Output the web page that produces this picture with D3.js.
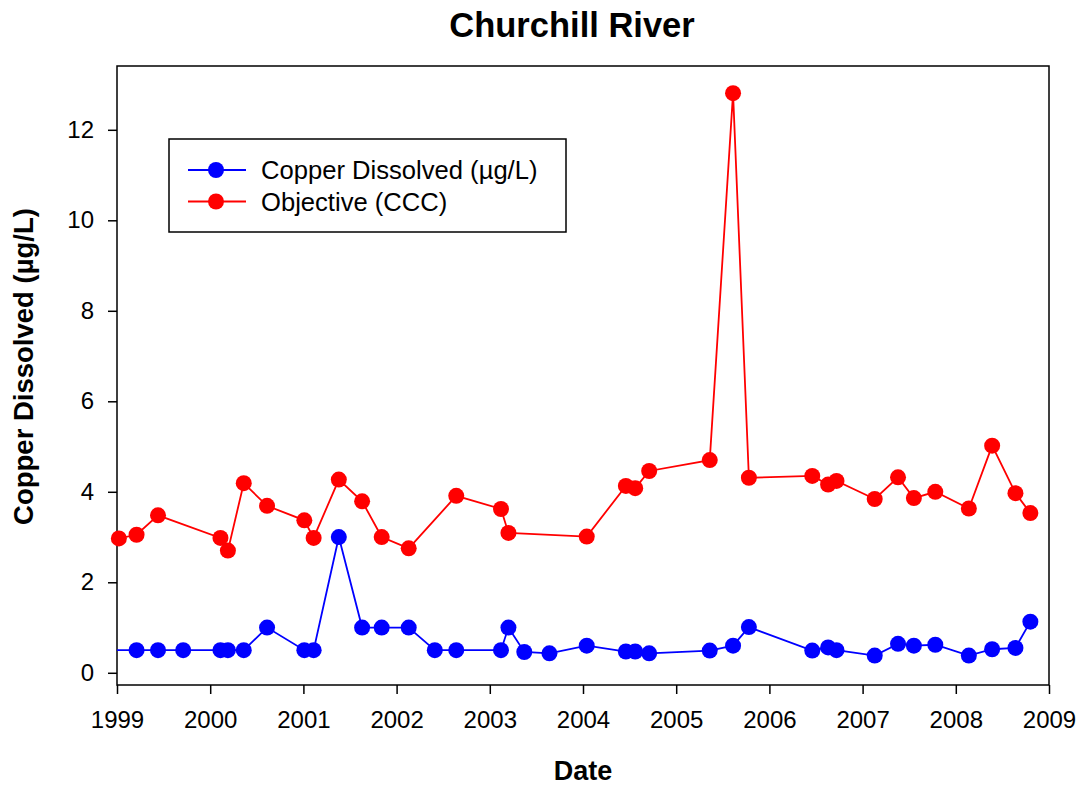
<!DOCTYPE html>
<html>
<head>
<meta charset="utf-8">
<script src="https://cdn.jsdelivr.net/npm/d3@7"></script>
<style>
  html, body { margin: 0; padding: 0; background: #fff; }
  svg { display: block; font-family: "Liberation Sans", Arial, sans-serif; }
</style>
</head>
<body>
<svg id="chart" width="1076" height="790"></svg>
<script>
// ---- Data (decimal years) ----
const copperDates = [1998.9, 1999.21, 1999.44, 1999.71, 2000.11, 2000.19, 2000.36, 2000.61, 2001.01, 2001.11,
  2001.38, 2001.63, 2001.84, 2002.13, 2002.41, 2002.64, 2003.12, 2003.20, 2003.37, 2003.64,
  2004.04, 2004.46, 2004.56, 2004.71, 2005.36, 2005.61, 2005.78, 2006.46, 2006.63, 2006.72,
  2007.13, 2007.38, 2007.55, 2007.78, 2008.14, 2008.39, 2008.64, 2008.80];
const copperValues = [0.5, 0.5, 0.5, 0.5, 0.5, 0.5, 0.5, 1.0, 0.5, 0.5,
  3.0, 1.0, 1.0, 1.0, 0.5, 0.5, 0.5, 1.0, 0.46, 0.43,
  0.6, 0.47, 0.47, 0.43, 0.49, 0.6, 1.01, 0.49, 0.56, 0.5,
  0.38, 0.64, 0.6, 0.62, 0.38, 0.52, 0.55, 1.13];

const objectiveDates = [1999.02, 1999.21, 1999.44, 2000.11, 2000.19, 2000.36, 2000.61, 2001.01, 2001.11,
  2001.38, 2001.63, 2001.84, 2002.13, 2002.64, 2003.12, 2003.20, 2004.04, 2004.46, 2004.56,
  2004.71, 2005.36, 2005.61, 2005.78, 2006.46, 2006.63, 2006.72, 2007.13, 2007.38, 2007.55,
  2007.78, 2008.14, 2008.39, 2008.64, 2008.80];
const objectiveValues = [2.97, 3.05, 3.48, 2.98, 2.70, 4.19, 3.69, 3.37, 2.98,
  4.27, 3.79, 3.0, 2.75, 3.91, 3.62, 3.09, 3.01, 4.13, 4.08,
  4.46, 4.70, 12.81, 4.31, 4.35, 4.16, 4.24, 3.84, 4.32, 3.86,
  4.0, 3.63, 5.02, 3.97, 3.53];

const xTicks = [1999, 2000, 2001, 2002, 2003, 2004, 2005, 2006, 2007, 2008, 2009];
const yTicks = [0, 2, 4, 6, 8, 10, 12];

const seriesNames = ["Copper Dissolved (\u00b5g/L)", "Objective (CCC)"];
const seriesColors = ["#0000ff", "#ff0000"];

const titleText = "Churchill River";
const xLabel = "Date";
const yLabel = "Copper Dissolved (\u00b5g/L)";

// ---- Layout ----
const svg = d3.select("#chart");
const pL = 117, pR = 1049, pT = 66, pB = 685;

const x = d3.scaleLinear().domain([1999, 2009]).range([pL, pR]);
const y = d3.scaleLinear().domain([-0.27, 13.41]).range([pB, pT]);

const series = [
  { name: seriesNames[0], color: seriesColors[0], data: copperDates.map((d, i) => ({ x: d, y: copperValues[i] })) },
  { name: seriesNames[1], color: seriesColors[1], data: objectiveDates.map((d, i) => ({ x: d, y: objectiveValues[i] })) }
];

svg.append("defs").append("clipPath").attr("id", "clip")
  .append("rect").attr("x", pL).attr("y", pT).attr("width", pR - pL).attr("height", pB - pT);

// frame
svg.append("rect").attr("x", pL).attr("y", pT).attr("width", pR - pL).attr("height", pB - pT)
  .attr("fill", "none").attr("stroke", "#000").attr("stroke-width", 1.5);

// axes
const xAxis = d3.axisBottom(x).tickValues(xTicks).tickFormat(d3.format("d")).tickSize(9).tickPadding(17);
const gx = svg.append("g").attr("transform", `translate(0,${pB})`).call(xAxis);
gx.select(".domain").remove();
gx.selectAll(".tick line").attr("stroke", "#000").attr("stroke-width", 1.5);
gx.selectAll(".tick text").attr("font-size", 24).attr("fill", "#000")
  .attr("font-family", "Liberation Sans, Arial, sans-serif");

const yAxis = d3.axisLeft(y).tickValues(yTicks).tickSize(9).tickPadding(14);
const gy = svg.append("g").attr("transform", `translate(${pL},0)`).call(yAxis);
gy.select(".domain").remove();
gy.selectAll(".tick line").attr("stroke", "#000").attr("stroke-width", 1.5);
gy.selectAll(".tick text").attr("font-size", 24).attr("fill", "#000")
  .attr("font-family", "Liberation Sans, Arial, sans-serif");

// lines + markers
const line = d3.line().x(d => x(d.x)).y(d => y(d.y));
series.forEach(s => {
  svg.append("path").datum(s.data).attr("clip-path", "url(#clip)")
    .attr("d", line).attr("fill", "none").attr("stroke", s.color).attr("stroke-width", 1.8);
});
series.forEach(s => {
  svg.append("g").selectAll("circle")
    .data(s.data.filter(d => d.x >= 1999 && d.x <= 2009))
    .join("circle")
    .attr("cx", d => x(d.x)).attr("cy", d => y(d.y)).attr("r", 8)
    .attr("fill", s.color);
});

// legend
const lg = svg.append("g");
lg.append("rect").attr("x", 169).attr("y", 139).attr("width", 397).attr("height", 93)
  .attr("fill", "#fff").attr("stroke", "#000").attr("stroke-width", 1.5);
series.forEach((s, i) => {
  const cy = 170 + i * 31.5;
  lg.append("line").attr("x1", 188).attr("x2", 246).attr("y1", cy).attr("y2", cy)
    .attr("stroke", s.color).attr("stroke-width", 1.8);
  lg.append("circle").attr("cx", 216).attr("cy", cy).attr("r", 8).attr("fill", s.color);
  lg.append("text").attr("x", 261).attr("y", cy).attr("dy", "0.36em")
    .attr("font-size", 25.6).attr("fill", "#000").text(s.name);
});

// titles
svg.append("text").attr("x", 572).attr("y", 37).attr("text-anchor", "middle")
  .attr("font-size", 34.5).attr("font-weight", "bold").text(titleText);
svg.append("text").attr("x", (pL + pR) / 2).attr("y", 780).attr("text-anchor", "middle")
  .attr("font-size", 27).attr("font-weight", "bold").text(xLabel);
svg.append("text").attr("transform", `translate(33,${(pT + pB) / 2 - 9}) rotate(-90)`)
  .attr("text-anchor", "middle").attr("font-size", 27.5).attr("font-weight", "bold").text(yLabel);
</script>
</body>
</html>
